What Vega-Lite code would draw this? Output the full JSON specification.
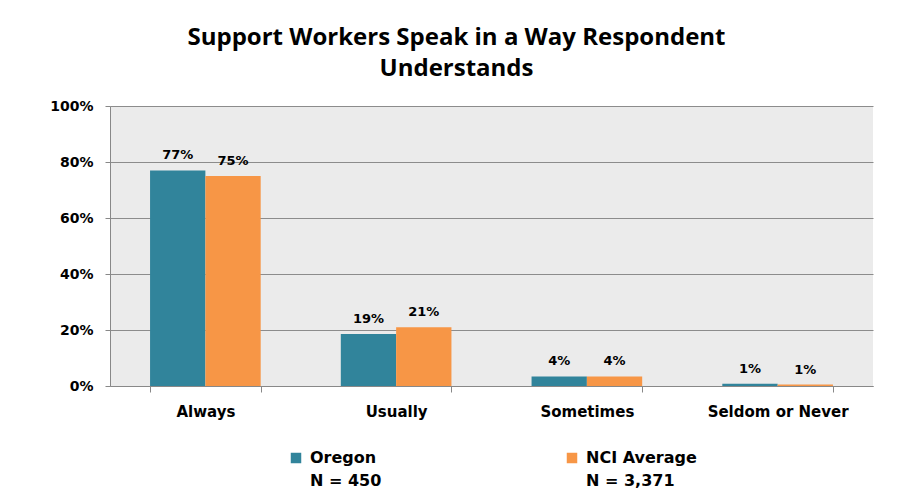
{
  "$schema": "https://vega.github.io/schema/vega-lite/v6.json",
  "width": 763,
  "height": 280,
  "autosize": {"type": "pad"},
  "padding": {"left": 40, "top": 26, "right": 27, "bottom": 5},
  "background": "white",
  "title": {
    "text": ["Support Workers Speak in a Way Respondent", "Understands"],
    "font": "Open Sans",
    "fontSize": 24,
    "fontWeight": "bold",
    "lineHeight": 31,
    "anchor": "middle",
    "frame": "bounds",
    "offset": 18,
    "color": "black"
  },
  "data": {
    "values": [
      {"response": "Always", "group": "Oregon", "value": 77, "label": "77%"},
      {"response": "Always", "group": "NCI Average", "value": 75, "label": "75%"},
      {"response": "Usually", "group": "Oregon", "value": 18.6, "label": "19%"},
      {"response": "Usually", "group": "NCI Average", "value": 21, "label": "21%"},
      {"response": "Sometimes", "group": "Oregon", "value": 3.4, "label": "4%"},
      {"response": "Sometimes", "group": "NCI Average", "value": 3.4, "label": "4%"},
      {"response": "Seldom or Never", "group": "Oregon", "value": 0.8, "label": "1%"},
      {"response": "Seldom or Never", "group": "NCI Average", "value": 0.5, "label": "1%"}
    ]
  },
  "encoding": {
    "x": {
      "field": "response",
      "type": "nominal",
      "sort": ["Always", "Usually", "Sometimes", "Seldom or Never"],
      "scale": {"paddingInner": 0.42, "paddingOuter": 0.21},
      "axis": {
        "title": null,
        "labelAngle": 0,
        "labelFont": "DejaVu Sans",
        "labelFontWeight": "bold",
        "labelFontSize": 15,
        "labelColor": "black",
        "labelPadding": 12,
        "tickBand": "extent",
        "tickSize": 6,
        "tickColor": "#888888",
        "domainColor": "#888888",
        "grid": false
      }
    },
    "xOffset": {
      "field": "group",
      "type": "nominal",
      "sort": ["Oregon", "NCI Average"],
      "scale": {"paddingInner": 0, "paddingOuter": 0}
    },
    "y": {
      "field": "value",
      "type": "quantitative",
      "scale": {"domain": [0, 100]},
      "axis": {
        "title": null,
        "values": [0, 20, 40, 60, 80, 100],
        "labelExpr": "datum.value + '%'",
        "labelFont": "DejaVu Sans",
        "labelFontWeight": "bold",
        "labelFontSize": 14,
        "labelColor": "black",
        "labelPadding": 12,
        "tickSize": 5,
        "tickColor": "#888888",
        "domainColor": "#888888",
        "gridColor": "#8c8c8c",
        "minExtent": 70,
        "maxExtent": 70
      }
    }
  },
  "layer": [
    {
      "mark": {"type": "bar"},
      "encoding": {
        "color": {
          "field": "group",
          "type": "nominal",
          "sort": ["Oregon", "NCI Average"],
          "scale": {"domain": ["Oregon", "NCI Average"], "range": ["#31849B", "#F79646"]},
          "legend": {
            "title": null,
            "orient": "none",
            "direction": "horizontal",
            "legendX": 178,
            "legendY": 344,
            "symbolType": "square",
            "symbolSize": 110,
            "symbolStrokeWidth": 0,
            "labelFont": "DejaVu Sans",
            "labelFontWeight": "bold",
            "labelFontSize": 16,
            "labelColor": "black",
            "labelOffset": 6,
            "columnPadding": 182,
            "labelLimit": 300,
            "labelExpr": "datum.label == 'Oregon' ? ['Oregon', '  N = 450'] : ['NCI Average', ' N = 3,371']"
          }
        }
      }
    },
    {
      "mark": {
        "type": "text",
        "baseline": "bottom",
        "dy": -8,
        "font": "DejaVu Sans",
        "fontWeight": "bold",
        "fontSize": 13,
        "color": "black"
      },
      "encoding": {"text": {"field": "label"}}
    }
  ],
  "config": {
    "view": {"fill": "#EBEBEB", "stroke": null},
    "style": {"guide-label": {"lineHeight": 23}}
  }
}
